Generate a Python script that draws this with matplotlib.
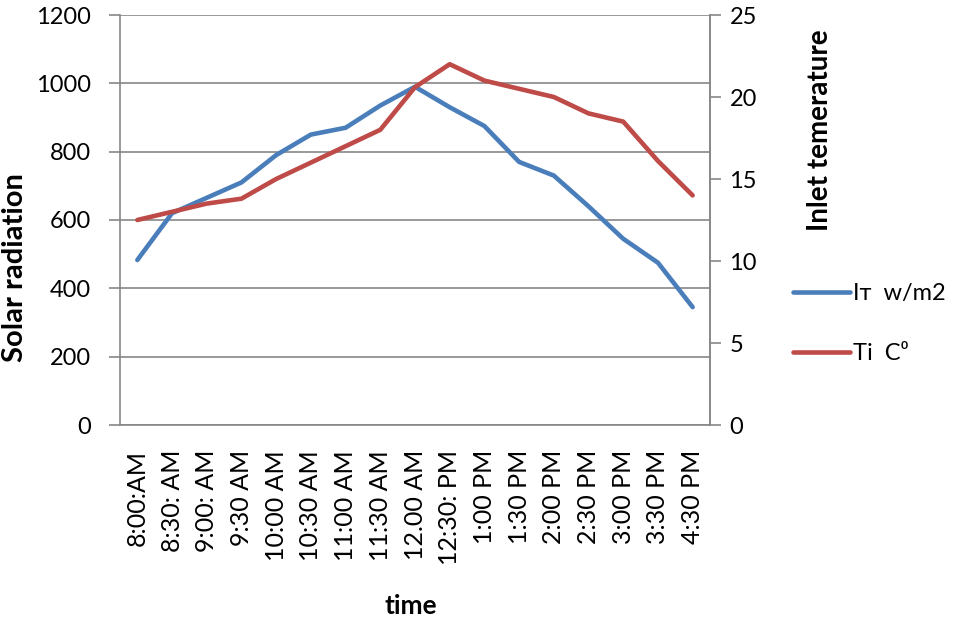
import matplotlib
matplotlib.use("Agg")
import matplotlib.pyplot as plt
import numpy as np

plt.rcParams['font.family'] = ['Lato', 'DejaVu Sans']

times = ["8:00:AM", "8:30: AM", "9:00: AM", "9:30 AM", "10:00 AM", "10:30 AM",
         "11:00 AM", "11:30 AM", "12.00 AM", "12:30: PM", "1:00 PM", "1:30 PM",
         "2:00 PM", "2:30 PM", "3:00 PM", "3:30 PM", "4:30 PM"]
radiation = [483, 620, 665, 710, 790, 850, 870, 935, 990, 930, 875, 770,
             730, 640, 545, 475, 345]
inlet_temp = [12.5, 13.0, 13.5, 13.8, 15.0, 16.0, 17.0, 18.0, 20.6, 22.0, 21.0,
              20.5, 20.0, 19.0, 18.5, 16.1, 14.0]
left_ticks = [0, 200, 400, 600, 800, 1000, 1200]
right_ticks = [0, 5, 10, 15, 20, 25]

BLUE = "#4A7EBB"
RED = "#BE4B48"
GRID = "#878787"

W, H = 955, 621
fig = plt.figure(figsize=(W / 100, H / 100), dpi=100)
ax = fig.add_axes([120 / W, 1 - 425 / H, 590 / W, 410 / H])
ax2 = ax.twinx()

x = np.arange(len(times))
l1, = ax.plot(x, radiation, color=BLUE, lw=3.3, solid_capstyle='round', zorder=3)
l2, = ax2.plot(x, inlet_temp, color=RED, lw=3.3, solid_capstyle='round', zorder=3)

ax.set_xlim(-0.5, len(times) - 0.5)
ax.set_ylim(0, 1200)
ax2.set_ylim(0, 25)
ax.set_yticks(left_ticks)
ax2.set_yticks(right_ticks)
ax.set_xticks(x)
ax.set_xticklabels(times, rotation=90, fontsize=18)
ax.tick_params(axis='x', length=0, pad=18)
ax.tick_params(axis='y', labelsize=17, length=8, width=1.2, color=GRID, pad=13)
ax2.tick_params(axis='y', labelsize=17, length=8, width=1.2, color=GRID, pad=6)

ax.grid(axis='y', color=GRID, lw=1.2)
ax.set_axisbelow(True)
for a in (ax, ax2):
    for s in a.spines.values():
        s.set_color(GRID)
        s.set_linewidth(1.2)
    a.spines['top'].set_visible(False)
ax2.spines['left'].set_visible(False)
ax2.spines['bottom'].set_visible(False)

fig.text(15 / W, 1 - 268 / H, "Solar radiation", rotation=90, ha='center', va='center',
         fontsize=21, fontweight='bold')
fig.text(820 / W, 1 - 130 / H, "Inlet temerature", rotation=90, ha='center', va='center',
         fontsize=20, fontweight='bold')
fig.text(411 / W, 1 - 606 / H, "time", ha='center', va='center', fontsize=19,
         fontweight='bold')

fig.legend([l1, l2], ["I\u0442  w/m2", "Ti  C\u2070"], loc='upper left',
           bbox_to_anchor=(772 / W, 1 - 262 / H), frameon=False,
           handlelength=2.4, handletextpad=0.15, labelspacing=1.65,
           prop={'family': ['Lato', 'DejaVu Sans'], 'size': 17})

fig.savefig("out.png", dpi=100)
